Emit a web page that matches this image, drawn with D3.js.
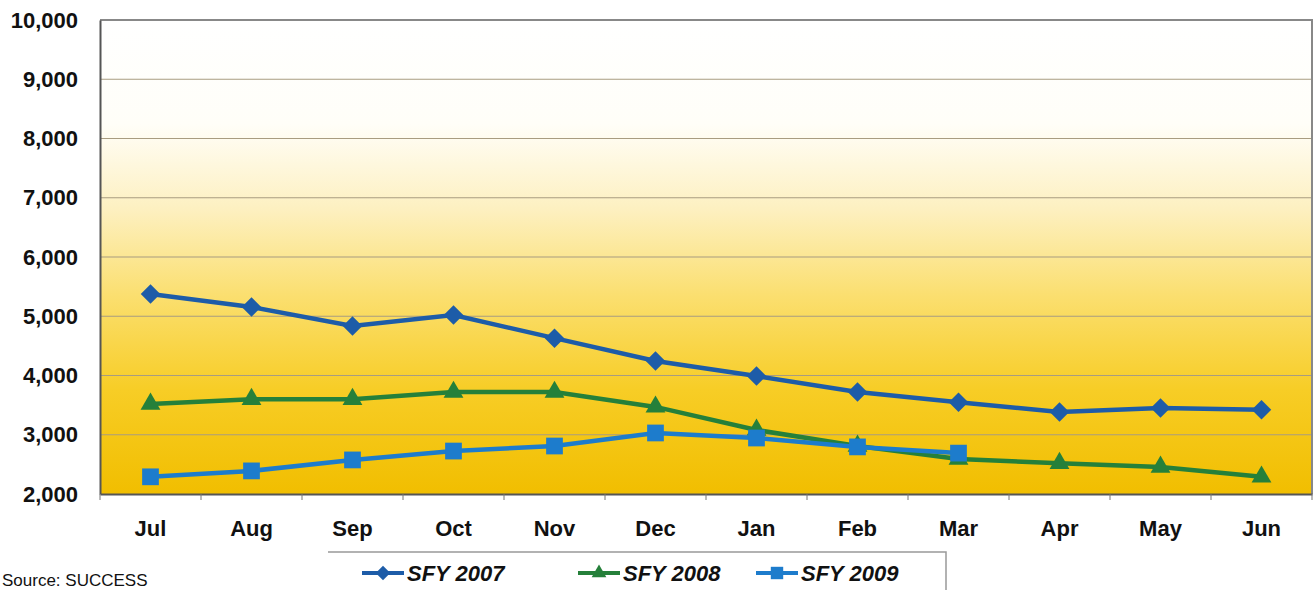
<!DOCTYPE html>
<html>
<head>
<meta charset="utf-8">
<script src="https://cdn.jsdelivr.net/npm/d3@7"></script>
<style>
  body { margin: 0; background: #fff; }
  svg { display: block; font-family: "Liberation Sans", Arial, sans-serif; }
</style>
</head>
<body>
<div id="chart"></div>
<script>
// ---- DATA ----
const months = ["Jul", "Aug", "Sep", "Oct", "Nov", "Dec", "Jan", "Feb", "Mar", "Apr", "May", "Jun"];
const sfy2007 = [5375, 5155, 4835, 5020, 4630, 4245, 3990, 3720, 3550, 3385, 3450, 3420];
const sfy2008 = [3520, 3600, 3600, 3720, 3720, 3470, 3080, 2810, 2590, 2520, 2455, 2290];
const sfy2009 = [2290, 2390, 2575, 2725, 2810, 3030, 2945, 2795, 2690];
const yTicks = [2000, 3000, 4000, 5000, 6000, 7000, 8000, 9000, 10000];

const series = [
  { name: "SFY 2007", values: sfy2007, color: "#1d5ca8", shape: d3.symbolSquare, size: 190, rot: 45 },
  { name: "SFY 2008", values: sfy2008, color: "#25803a", shape: d3.symbolTriangle, size: 170, rot: 0 },
  { name: "SFY 2009", values: sfy2009, color: "#1d7ccc", shape: d3.symbolSquare, size: 280, rot: 0 }
];

const width = 1315, height = 590;
const margin = { top: 20, right: 3, bottom: 96, left: 100 };
const innerW = width - margin.left - margin.right;
const innerH = height - margin.top - margin.bottom;

const svg = d3.select("#chart").append("svg")
  .attr("width", width)
  .attr("height", height);

// background gradient
const defs = svg.append("defs");
const grad = defs.append("linearGradient")
  .attr("id", "bg").attr("x1", 0).attr("y1", 0).attr("x2", 0).attr("y2", 1);
grad.append("stop").attr("offset", "0%").attr("stop-color", "#ffffff");
grad.append("stop").attr("offset", "22%").attr("stop-color", "#fffef8");
grad.append("stop").attr("offset", "40%").attr("stop-color", "#fdf0c0");
grad.append("stop").attr("offset", "58%").attr("stop-color", "#fbdf70");
grad.append("stop").attr("offset", "78%").attr("stop-color", "#f7cd26");
grad.append("stop").attr("offset", "100%").attr("stop-color", "#f1be00");

const g = svg.append("g")
  .attr("transform", `translate(${margin.left},${margin.top})`);

const x = d3.scaleBand().domain(months).range([0, innerW]);
const y = d3.scaleLinear().domain([2000, 10000]).range([innerH, 0]);

g.append("rect")
  .attr("width", innerW).attr("height", innerH)
  .attr("fill", "url(#bg)");

// grid lines
g.selectAll(".grid")
  .data(yTicks.slice(1))
  .enter()
  .append("line")
  .attr("x1", 0).attr("x2", innerW)
  .attr("y1", d => y(d)).attr("y2", d => y(d))
  .attr("stroke", "#a89c80")
  .attr("stroke-width", 1.2);

// plot border (top/right)
g.append("path")
  .attr("d", `M0,0H${innerW}V${innerH}`)
  .attr("fill", "none")
  .attr("stroke", "#888")
  .attr("stroke-width", 2);

// y axis
const yAxis = g.append("g")
  .call(d3.axisLeft(y).tickValues(yTicks).tickFormat(d3.format(",")).tickSize(0).tickPadding(22));
yAxis.select(".domain").attr("stroke", "#555").attr("stroke-width", 2);
yAxis.selectAll("text")
  .attr("font-size", "22px")
  .attr("font-weight", "bold")
  .attr("fill", "#111");

// x axis
const xAxis = g.append("g")
  .attr("transform", `translate(0,${innerH})`)
  .call(d3.axisBottom(x).tickSize(0).tickPadding(26));
xAxis.select(".domain").attr("stroke", "#555").attr("stroke-width", 2);
xAxis.selectAll("text")
  .attr("font-size", "22px")
  .attr("font-weight", "bold")
  .attr("fill", "#111");
g.selectAll(".xtick")
  .data(d3.range(months.length + 1))
  .enter()
  .append("line")
  .attr("x1", i => i * x.step()).attr("x2", i => i * x.step())
  .attr("y1", innerH).attr("y2", innerH + 6)
  .attr("stroke", "#777");

// lines + markers
const line = d3.line()
  .x((d, i) => x(months[i]) + x.bandwidth() / 2)
  .y(d => y(d));

series.forEach(s => {
  g.append("path")
    .datum(s.values)
    .attr("d", line)
    .attr("fill", "none")
    .attr("stroke", s.color)
    .attr("stroke-width", 4.5);

  g.selectAll(null)
    .data(s.values)
    .enter()
    .append("path")
    .attr("d", d3.symbol().type(s.shape).size(s.size))
    .attr("transform", (d, i) => `translate(${x(months[i]) + x.bandwidth() / 2},${y(d)}) rotate(${s.rot})`)
    .attr("fill", s.color);
});

// legend
const legend = svg.append("g").attr("transform", "translate(328,552)");
legend.append("path")
  .attr("d", "M0,0H618V40")
  .attr("fill", "none")
  .attr("stroke", "#999")
  .attr("stroke-width", 1.5);
const legendX = [34, 250, 428];
series.forEach((s, i) => {
  const lg = legend.append("g").attr("transform", `translate(${legendX[i]},21)`);
  lg.append("line").attr("x1", 0).attr("x2", 42)
    .attr("stroke", s.color).attr("stroke-width", 4);
  lg.append("path")
    .attr("d", d3.symbol().type(s.shape).size(s.size * 0.55))
    .attr("transform", `translate(21,0) rotate(${s.rot})`)
    .attr("fill", s.color);
  lg.append("text")
    .attr("x", 45).attr("y", 8)
    .attr("font-size", "22px")
    .attr("font-weight", "bold")
    .attr("font-style", "italic")
    .attr("fill", "#111")
    .text(s.name);
});

// source note
svg.append("text")
  .attr("x", 2).attr("y", 586)
  .attr("font-size", "17px")
  .attr("fill", "#111")
  .text("Source: SUCCESS");
</script>
</body>
</html>
